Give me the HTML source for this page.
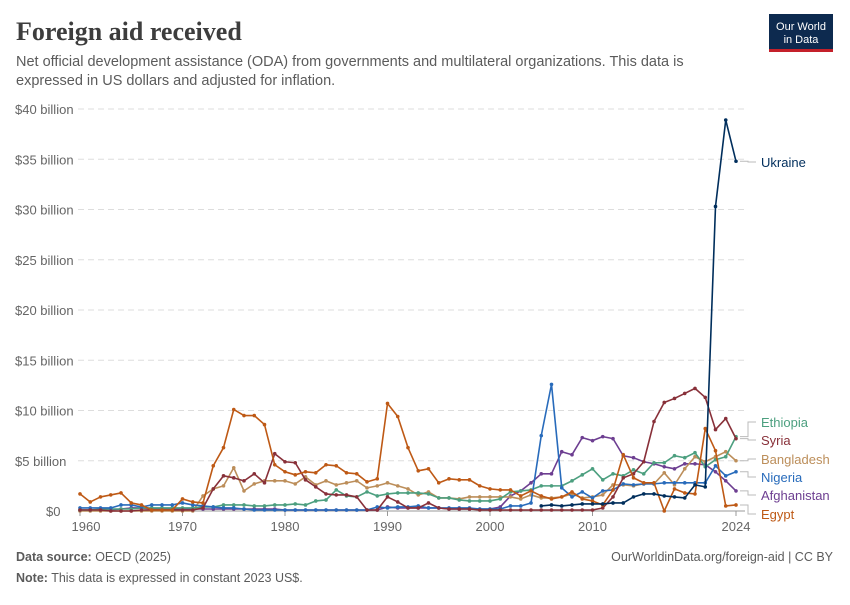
<!DOCTYPE html>
<html><head><meta charset="utf-8"><style>
body{margin:0;background:#fff;width:850px;height:600px;overflow:hidden;font-family:"Liberation Sans",sans-serif}
svg text{font-family:"Liberation Sans",sans-serif}
</style></head><body>
<svg id="c" width="850" height="600" xmlns="http://www.w3.org/2000/svg">
<text x="16" y="40" font-family="Liberation Serif" font-size="26" font-weight="bold" fill="#3d3d3d" style="font-family:'Liberation Serif',serif">Foreign aid received</text>
<text x="16" y="66" font-size="14.5" fill="#5b5b5b">Net official development assistance (ODA) from governments and multilateral organizations. This data is</text>
<text x="16" y="85" font-size="14.5" fill="#5b5b5b">expressed in US dollars and adjusted for inflation.</text>
<rect x="769" y="14" width="64" height="37" fill="#0d2a4f"/>
<rect x="769" y="49" width="64" height="3" fill="#c4202a"/>
<text x="801" y="30" font-size="11" fill="#fff" text-anchor="middle">Our World</text>
<text x="801" y="43" font-size="11" fill="#fff" text-anchor="middle">in Data</text>
<g id="grid"></g>
<g id="series"></g>
<text x="16" y="561" font-size="12.5" fill="#5b5b5b"><tspan font-weight="bold">Data source:</tspan> OECD (2025)</text>
<text x="833" y="561" font-size="12.5" fill="#5b5b5b" text-anchor="end">OurWorldinData.org/foreign-aid | CC BY</text>
<text x="16" y="582" font-size="12.5" fill="#5b5b5b"><tspan font-weight="bold">Note:</tspan> This data is expressed in constant 2023 US$.</text>
</svg>
<script>
const NS="http://www.w3.org/2000/svg";
function el(p,t,a,txt){const e=document.createElementNS(NS,t);for(const k in a)e.setAttribute(k,a[k]);if(txt!==undefined)e.textContent=txt;p.appendChild(e);return e;}
const X=y=>80+(y-1960)*10.25, Y=v=>511-v*10.05;
const g=document.getElementById('grid');
const labs=["$0","$5 billion","$10 billion","$15 billion","$20 billion","$25 billion","$30 billion","$35 billion","$40 billion"];
for(let i=0;i<=8;i++){const y=Y(i*5);
 if(i>0)el(g,'line',{x1:78,x2:745,y1:y,y2:y,stroke:'#ddd','stroke-dasharray':'6,4'});
 el(g,'text',{x:i==0?46:15,y:y+5,'font-size':13,fill:'#666'},labs[i]);}
el(g,'line',{x1:78,x2:745,y1:511,y2:511,stroke:'#999'});
[[1960,"1960"],[1970,"1970"],[1980,"1980"],[1990,"1990"],[2000,"2000"],[2010,"2010"],[2024,"2024"]].forEach(([yr,t])=>{
 el(g,'line',{x1:X(yr),x2:X(yr),y1:511,y2:516,stroke:'#999'});
 el(g,'text',{x:X(yr)+(yr==1960?6:0),y:531,'font-size':13,fill:'#666','text-anchor':'middle'},t);});
const S=document.getElementById('series');
const data=[
["Afghanistan","#6d3e91",1960,[0.1,0.1,0.1,0.1,0.2,0.3,0.3,0.2,0.2,0.2,0.2,0.2,0.2,0.2,0.2,0.2,0.2,0.2,0.2,0.2,0.1,0.1,0.1,0.1,0.1,0.1,0.1,0.1,0.1,0.1,0.4,0.3,0.3,0.3,0.3,0.3,0.2,0.2,0.2,0.2,0.2,0.4,1.5,2.0,2.8,3.7,3.7,5.9,5.6,7.3,7.0,7.4,7.2,5.5,5.3,4.9,4.7,4.4,4.2,4.7,4.7,4.6,3.9,3.0,2.0],495],
["Bangladesh","#bc8e5a",1960,[0,0,0,0,0,0,0,0,0,0,0,0,1.5,2.2,2.5,4.3,2.0,2.7,3.0,3.0,3.0,2.7,3.4,2.6,3.0,2.6,2.8,3.0,2.3,2.5,2.8,2.5,2.2,1.6,1.9,1.3,1.3,1.2,1.4,1.4,1.4,1.4,1.4,1.2,1.6,1.3,1.3,1.4,1.7,1.3,1.4,1.6,2.6,2.6,2.5,2.7,2.7,3.8,2.6,4.2,5.4,4.9,5.4,5.9,5.0],459],
["Ethiopia","#4c9f7f",1960,[0.1,0.1,0.2,0.2,0.2,0.2,0.3,0.3,0.3,0.3,0.3,0.3,0.4,0.4,0.6,0.6,0.6,0.5,0.5,0.6,0.6,0.7,0.6,1.0,1.1,2.1,1.5,1.4,1.9,1.5,1.7,1.8,1.8,1.8,1.7,1.3,1.3,1.1,1.0,1.0,1.0,1.2,1.9,2.0,2.1,2.5,2.5,2.5,3.0,3.6,4.2,3.1,3.7,3.5,4.1,3.7,4.8,4.8,5.5,5.3,5.8,4.4,5.1,5.4,7.4],422],
["Nigeria","#286bbb",1960,[0.3,0.3,0.3,0.3,0.6,0.6,0.4,0.6,0.6,0.6,0.8,0.6,0.5,0.4,0.3,0.3,0.2,0.1,0.1,0.1,0.1,0.1,0.1,0.1,0.1,0.1,0.1,0.1,0.1,0.4,0.3,0.4,0.4,0.5,0.3,0.3,0.3,0.3,0.3,0.2,0.2,0.2,0.5,0.5,0.8,7.5,12.6,2.3,1.4,1.9,1.3,2.0,2.1,2.7,2.6,2.7,2.7,2.8,2.8,2.8,2.8,2.8,4.5,3.5,3.9],477],
["Syria","#883039",1960,[0.1,0.1,0.1,0,0,0,0.1,0.1,0.1,0.1,0.1,0.1,0.3,2.2,3.5,3.3,3.0,3.7,2.8,5.7,4.9,4.8,3.1,2.4,1.7,1.6,1.6,1.4,0.1,0.1,1.4,0.9,0.3,0.3,0.8,0.3,0.2,0.2,0.2,0.1,0.1,0.1,0.1,0.1,0.1,0.1,0.1,0.1,0.1,0.1,0.1,0.3,1.4,3.3,3.7,4.9,8.9,10.8,11.2,11.7,12.2,11.3,8.1,9.2,7.2],440],
["Egypt","#be5915",1960,[1.7,0.9,1.4,1.6,1.8,0.8,0.6,0.1,0.1,0.1,1.2,0.9,0.8,4.5,6.3,10.1,9.5,9.5,8.6,4.6,3.9,3.6,3.9,3.8,4.6,4.5,3.8,3.7,2.9,3.2,10.7,9.4,6.3,4.0,4.2,2.8,3.2,3.1,3.1,2.5,2.2,2.1,2.1,1.5,2.0,1.5,1.2,1.4,1.9,1.2,1.0,0.6,2.1,5.6,3.3,2.8,2.8,0.0,2.2,1.8,1.7,8.2,6.0,0.5,0.6],514],
["Ukraine","#002e5c",2005,[0.5,0.6,0.5,0.6,0.7,0.7,0.7,0.8,0.8,1.4,1.7,1.7,1.5,1.4,1.3,2.6,2.4,30.3,38.9,34.8],162]
];
data.forEach(([n,c,s,v,ly])=>{
 const pts=v.map((d,i)=>[X(s+i),Y(d)]);
 el(S,'polyline',{points:pts.map(p=>p.join(',')).join(' '),fill:'none',stroke:c,'stroke-width':1.6,'stroke-linejoin':'round'});
 pts.forEach(p=>el(S,'circle',{cx:p[0],cy:p[1],r:1.8,fill:c}));
 const e=pts[pts.length-1];
 el(S,'polyline',{points:`${e[0]+4},${e[1]} 748,${e[1]} 748,${ly} 756,${ly}`,fill:'none',stroke:'#bbb','stroke-width':1});
 el(S,'text',{x:761,y:ly+5,'font-size':13,fill:c},n);
});
</script>
</body></html>
